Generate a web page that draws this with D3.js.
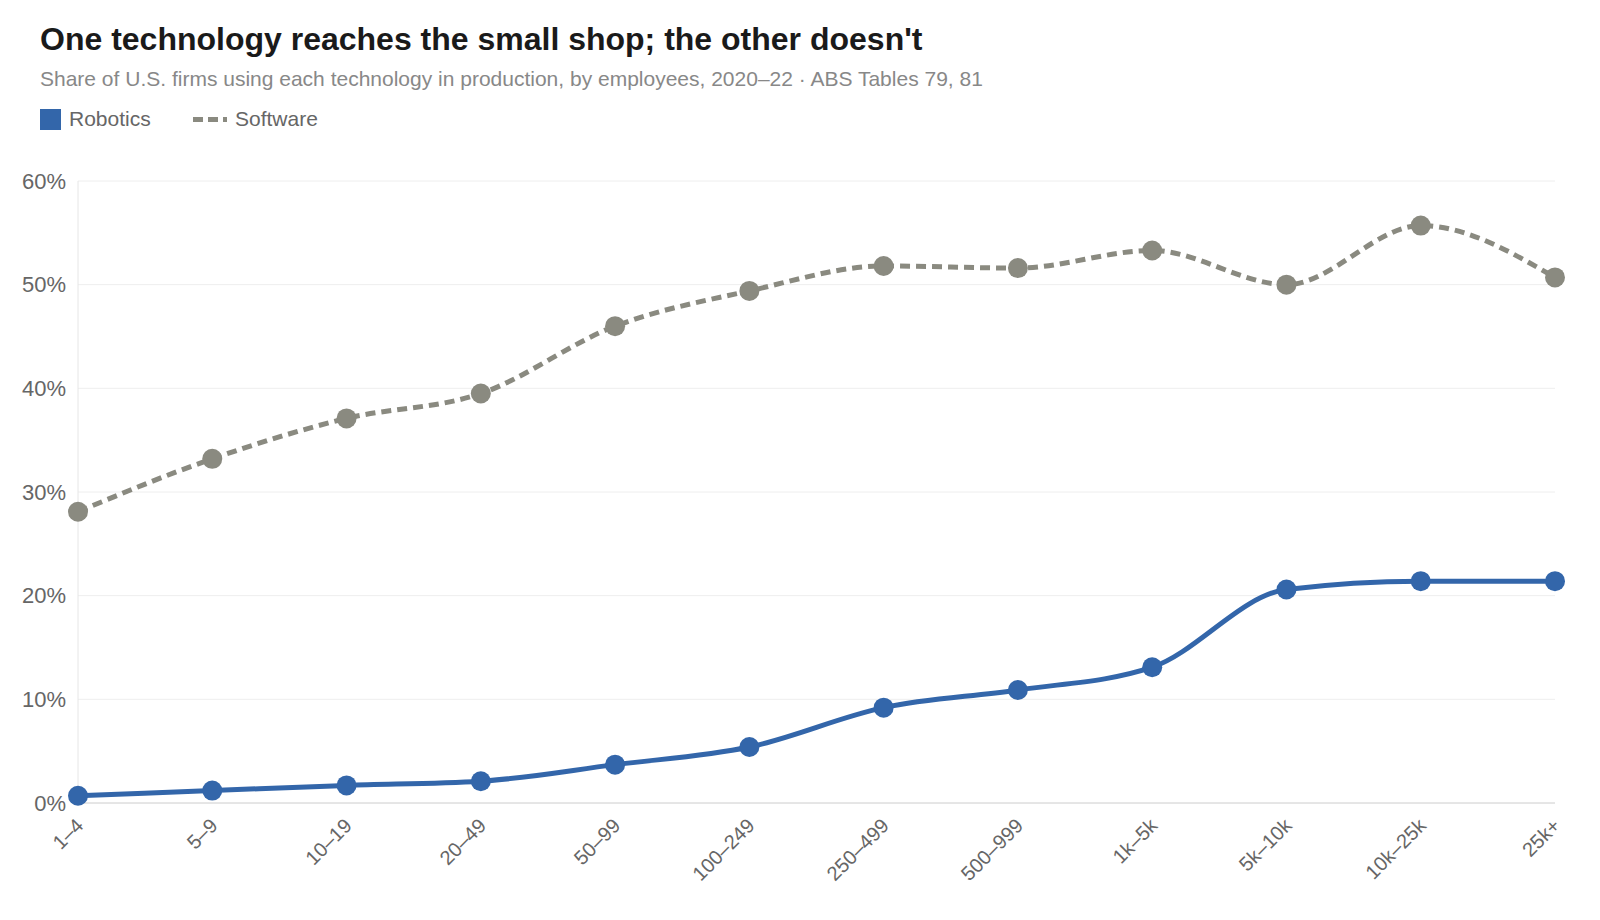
<!DOCTYPE html>
<html><head><meta charset="utf-8">
<script src="https://cdn.jsdelivr.net/npm/d3@7"></script>
<style>
body{margin:0;background:#fff;font-family:"Liberation Sans",Arial,sans-serif;}
</style></head>
<body><svg id="c" width="1600" height="920"></svg>
<script>
const categories = ["1–4","5–9","10–19","20–49","50–99","100–249","250–499","500–999","1k–5k","5k–10k","10k–25k","25k+"];
const robotics = [0.7,1.2,1.7,2.1,3.7,5.4,9.2,10.9,13.1,20.6,21.4,21.4];
const software = [28.1,33.2,37.1,39.5,46.0,49.4,51.8,51.6,53.3,50.0,55.7,50.7];
const yTicks = [0,10,20,30,40,50,60];

const svg = d3.select("#c");
const m = {l:78, r:1555, t:181, b:803};
const x = d3.scalePoint().domain(categories).range([m.l, m.r]);
const y = d3.scaleLinear().domain([0,60]).range([m.b, m.t]);
const FONT = "Liberation Sans, Arial, sans-serif";

svg.append("text").attr("x",40).attr("y",50).attr("font-size",32).attr("font-weight","bold").attr("fill","#1a1a1a")
  .text("One technology reaches the small shop; the other doesn't");
svg.append("text").attr("x",40).attr("y",86).attr("font-size",21).attr("fill","#888")
  .text("Share of U.S. firms using each technology in production, by employees, 2020–22 · ABS Tables 79, 81");

// legend
svg.append("rect").attr("x",40).attr("y",109).attr("width",21).attr("height",21).attr("fill","#3366aa");
svg.append("text").attr("x",69).attr("y",126).attr("font-size",21).attr("fill","#666").text("Robotics");
svg.append("line").attr("x1",193).attr("x2",227).attr("y1",119.5).attr("y2",119.5).attr("stroke","#8a8a80").attr("stroke-width",5).attr("stroke-dasharray","10,5");
svg.append("text").attr("x",235).attr("y",126).attr("font-size",21).attr("fill","#666").text("Software");

// grid
const g = svg.append("g");
g.selectAll("line.grid").data(yTicks).join("line")
  .attr("x1",m.l).attr("x2",m.r).attr("y1",d=>y(d)).attr("y2",d=>y(d))
  .attr("stroke",d=>d===0?"#ccc":"#eee").attr("stroke-width",1);
g.append("line").attr("x1",m.l).attr("x2",m.l).attr("y1",m.t).attr("y2",m.b).attr("stroke","#e6e6e6");

const yAxis = d3.axisLeft(y).tickValues(yTicks).tickFormat(d=>d+"%").tickSize(0).tickPadding(12);
const ya = svg.append("g").attr("transform",`translate(${m.l},0)`).call(yAxis);
ya.select(".domain").remove();
ya.selectAll("text").attr("font-size",22).attr("fill","#666").attr("font-family",FONT);

const xAxis = d3.axisBottom(x).tickSize(0).tickPadding(0);
const xa = svg.append("g").attr("transform",`translate(0,${m.b})`).call(xAxis);
xa.select(".domain").remove();
xa.selectAll("text").attr("font-size",20).attr("fill","#666").attr("font-family",FONT)
  .attr("text-anchor","end").attr("dy",0).attr("transform","translate(6,24) rotate(-45)");

const line = d3.line().x((d,i)=>x(categories[i])).y(d=>y(d)).curve(d3.curveMonotoneX);

svg.append("path").datum(software).attr("d",line).attr("fill","none").attr("stroke","#8a8a80")
  .attr("stroke-width",5).attr("stroke-dasharray","10,6");
svg.selectAll("circle.s").data(software).join("circle").attr("cx",(d,i)=>x(categories[i])).attr("cy",d=>y(d)).attr("r",10).attr("fill","#8a8a80");

svg.append("path").datum(robotics).attr("d",line).attr("fill","none").attr("stroke","#3366aa").attr("stroke-width",5);
svg.selectAll("circle.r").data(robotics).join("circle").attr("cx",(d,i)=>x(categories[i])).attr("cy",d=>y(d)).attr("r",10).attr("fill","#3366aa");
</script></body></html>
